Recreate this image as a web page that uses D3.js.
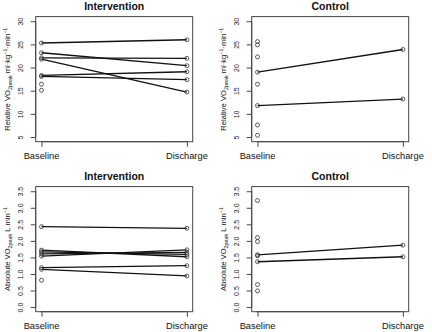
<!DOCTYPE html>
<html><head><meta charset="utf-8">
<script src="https://cdn.jsdelivr.net/npm/d3@7"></script>
<style>body{margin:0;background:#fff}svg{display:block}</style>
</head><body>
<svg id="c" width="432" height="332"></svg>
<script>
const categories = ["Baseline", "Discharge"];
const panelTitles = ["Intervention", "Control"];

const relIntBaseline = [25.3, 23.2, 22.1, 21.8, 18.3, 18.1, 16.4, 15.1];
const relIntDischarge = [26.0, 20.4, 22.0, 14.7, 19.1, 17.4, null, null];
const relCtlBaseline = [19.0, 11.8, 25.6, 24.9, 22.3, 16.4, 7.6, 5.4];
const relCtlDischarge = [23.9, 13.2, null, null, null, null, null, null];

const absIntBaseline = [2.43, 1.72, 1.67, 1.61, 1.54, 1.19, 1.14, 0.81];
const absIntDischarge = [2.38, 1.52, 1.59, 1.65, 1.73, 1.25, 0.94, null];
const absCtlBaseline = [1.58, 1.37, 3.22, 2.10, 1.98, 1.55, 0.68, 0.49];
const absCtlDischarge = [1.87, 1.52, null, null, null, null, null, null];

const relTicks = [5, 10, 15, 20, 25, 30];
const relTickLabels = ["5", "10", "15", "20", "25", "30"];
const absTicks = [0, 0.5, 1, 1.5, 2, 2.5, 3, 3.5];
const absTickLabels = ["0.0", "0.5", "1.0", "1.5", "2.0", "2.5", "3.0", "3.5"];

const svg = d3.select("#c");
const FONT = "'Liberation Sans', Arial, Helvetica, sans-serif";

const box = {l: 35.7, r: 192.7, t: 16.6, b: 141.7};

function drawPanel(ox, oy, title, base, dis, ticks, tickLabels, labelParts) {
  const g = svg.append("g").attr("transform", `translate(${ox},${oy})`);
  const lo = ticks[0], hi = ticks[ticks.length - 1], ext = (hi - lo) * 0.04;
  const y = d3.scaleLinear().domain([lo - ext, hi + ext]).range([box.b, box.t]);
  const x = d3.scalePoint().domain(categories).range([box.l, box.r]).padding(0.04);

  g.append("rect").attr("x", box.l).attr("y", box.t)
    .attr("width", box.r - box.l).attr("height", box.b - box.t)
    .attr("fill", "none").attr("stroke", "#444").attr("stroke-width", 1);

  const ya = g.append("g").attr("transform", `translate(${box.l},0)`)
    .call(d3.axisLeft(y).tickValues(ticks).tickSize(5).tickFormat((d, i) => tickLabels[i]));
  ya.select(".domain").remove();
  ya.append("line").attr("x1", 0).attr("x2", 0)
    .attr("y1", y(lo)).attr("y2", y(hi)).attr("stroke", "#444");
  ya.selectAll(".tick line").attr("stroke", "#444");
  ya.selectAll(".tick text")
    .attr("x", null).attr("dy", null)
    .attr("transform", "translate(-13,0) rotate(-90)")
    .attr("text-anchor", "middle")
    .attr("font-family", FONT).attr("font-size", 7).attr("fill", "#222");

  const xa = g.append("g").attr("transform", `translate(0,${box.b})`)
    .call(d3.axisBottom(x).tickSize(5).tickFormat(() => ""));
  xa.select(".domain").remove();
  xa.append("line").attr("x1", x(categories[0])).attr("x2", x(categories[1]))
    .attr("stroke", "#444");
  xa.selectAll(".tick line").attr("stroke", "#444");

  g.selectAll("text.xl").data(categories).join("text").attr("class", "xl")
    .attr("x", d => x(d)).attr("y", 158.5)
    .attr("text-anchor", "middle")
    .attr("font-family", FONT).attr("font-size", 9.3).attr("fill", "#111")
    .text(d => d);

  g.append("text").attr("x", (box.l + box.r) / 2).attr("y", 9.8)
    .attr("text-anchor", "middle").attr("font-family", FONT)
    .attr("font-weight", "bold").attr("font-size", 10.5).attr("fill", "#111")
    .text(title);

  const yl = g.append("text")
    .attr("transform", `translate(10,${(box.t + box.b) / 2}) rotate(-90)`)
    .attr("text-anchor", "middle").attr("font-family", FONT)
    .attr("font-size", 7.6).attr("fill", "#111");
  labelParts.forEach(p => {
    const t = yl.append("tspan").text(p.t);
    if (p.s === "sub") t.attr("font-size", 5.4).attr("dy", 1.7);
    else if (p.s === "sup") t.attr("font-size", 5.4).attr("dy", -3);
    if (p.back) t.attr("dy", p.back);
  });

  base.forEach((b, i) => {
    if (dis[i] != null) {
      g.append("line")
        .attr("x1", x(categories[0])).attr("y1", y(b))
        .attr("x2", x(categories[1])).attr("y2", y(dis[i]))
        .attr("stroke", "#111").attr("stroke-width", 1.3);
    }
  });
  const pts = [];
  base.forEach((b, i) => {
    pts.push({c: categories[0], v: b});
    if (dis[i] != null) pts.push({c: categories[1], v: dis[i]});
  });
  g.selectAll("circle").data(pts).join("circle")
    .attr("cx", d => x(d.c)).attr("cy", d => y(d.v)).attr("r", 2)
    .attr("fill", "none").attr("stroke", "#333").attr("stroke-width", 0.8);
}

const relLabel = [
  {t: "Relative VO"}, {t: "2peak", s: "sub"},
  {t: " ml\u00b7kg", back: -1.7}, {t: "\u22121", s: "sup"},
  {t: "\u00b7min", back: 3}, {t: "\u22121", s: "sup"}
];
const absLabel = [
  {t: "Absolute VO"}, {t: "2peak", s: "sub"},
  {t: " L min", back: -1.7}, {t: "\u22121", s: "sup"}
];

drawPanel(0, 0, panelTitles[0], relIntBaseline, relIntDischarge, relTicks, relTickLabels, relLabel);
drawPanel(216, 0, panelTitles[1], relCtlBaseline, relCtlDischarge, relTicks, relTickLabels, relLabel);
drawPanel(0, 170, panelTitles[0], absIntBaseline, absIntDischarge, absTicks, absTickLabels, absLabel);
drawPanel(216, 170, panelTitles[1], absCtlBaseline, absCtlDischarge, absTicks, absTickLabels, absLabel);
</script>
</body></html>
